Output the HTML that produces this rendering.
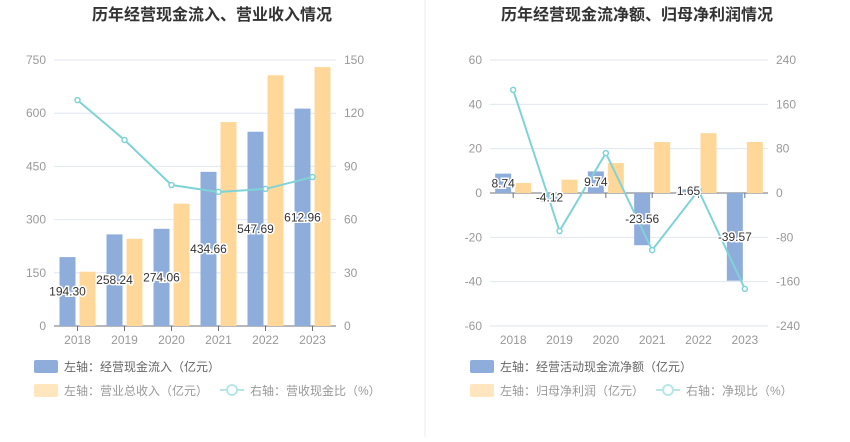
<!DOCTYPE html>
<html><head><meta charset="utf-8"><style>
body{margin:0;background:#fff;font-family:"Liberation Sans","Noto Sans CJK SC",sans-serif;}
svg text{font-family:"Liberation Sans","Noto Sans CJK SC",sans-serif;}
</style></head><body>
<svg id="s" width="850" height="437" xmlns="http://www.w3.org/2000/svg">
<line x1="425" y1="0" x2="425" y2="437" stroke="#eeeeee"/>
<text x="212" y="20" text-anchor="middle" font-size="16" font-weight="bold" fill="#333">历年经营现金流入、营业收入情况</text>
<text x="637" y="20" text-anchor="middle" font-size="16" font-weight="bold" fill="#333">历年经营现金流净额、归母净利润情况</text>
<g id="L"></g><g id="R"></g>
</svg>
<script>
const years=["2018","2019","2020","2021","2022","2023"];
const cashIn=[194.30,258.24,274.06,434.66,547.69,612.96];
const revenue=[153,246,345,575,707,730];
const cashRatio=[127.4,104.9,79.5,75.6,77.3,84];
const leftTicks=[0,150,300,450,600,750];
const leftRTicks=[0,30,60,90,120,150];
const netCash=[8.74,-4.12,9.74,-23.56,1.65,-39.57];
const netProfit=[4.5,6,13.5,23,27,23];
const netRatio=[186,-68.6,72,-103,5,-173];
const rightTicks=[-60,-40,-20,0,20,40,60];
const rightRTicks=[-240,-160,-80,0,80,160,240];
const NS="http://www.w3.org/2000/svg";
function mk(p,t,a){const e=document.createElementNS(NS,t);for(const k in a)e.setAttribute(k,a[k]);p.appendChild(e);return e;}
function chart(g,o){
 const x0=o.x0,x1=o.x1,top=60,bot=326,cw=(x1-x0)/years.length;
 const y=v=>bot-(v-o.min)/(o.max-o.min)*(bot-top);
 const yr=v=>bot-(v-o.rmin)/(o.rmax-o.rmin)*(bot-top);
 o.ticks.forEach((t,i)=>{
  const l=mk(g,'line',{x1:x0,x2:x1,y1:y(t),y2:y(t),stroke:'#e0e6f1'});
  
  const a=mk(g,'text',{x:x0-8,y:y(t)+4,'text-anchor':'end','font-size':12,fill:'#999'});a.textContent=t;
  
  const b=mk(g,'text',{x:x1+8,y:y(t)+4,'font-size':12,fill:'#999'});b.textContent=o.rticks[i];
  
 });
 const ax=mk(g,'line',{x1:x0,x2:x1,y1:y(0),y2:y(0),stroke:'#6e7079'});
 
 years.forEach((yy,i)=>{
  const c=x0+cw*(i+0.5);
  const tk=mk(g,'line',{x1:c,x2:c,y1:y(0),y2:y(0)+5,stroke:'#6e7079'});
  
  const t=mk(g,'text',{x:c,y:bot+18,'text-anchor':'middle','font-size':12,fill:'#999'});t.textContent=yy;
  
  const bw=16;
  const v1=o.a[i],v2=o.b[i];
  const r1=mk(g,'rect',{x:c-bw-2,y:Math.min(y(v1),y(0)),width:bw,height:Math.abs(y(v1)-y(0)),fill:'#8eaddb'});
  
  const r2=mk(g,'rect',{x:c+2,y:Math.min(y(v2),y(0)),width:bw,height:Math.abs(y(v2)-y(0)),fill:'#ffd899'});
  
 });
 let pts=o.c.map((v,i)=>(x0+cw*(i+0.5))+','+yr(v)).join(' ');
 const pl=mk(g,'polyline',{points:pts,fill:'none',stroke:'#7fd3d6','stroke-width':2});
 
 o.c.forEach((v,i)=>{
  const p=mk(g,'circle',{cx:x0+cw*(i+0.5),cy:yr(v),r:2.5,fill:'#fff',stroke:'#7fd3d6','stroke-width':1.5});
  
 });
 o.a.forEach((v,i)=>{
  const c=x0+cw*(i+0.5);
  const ly=o.labelY(v,y);
  const t=mk(g,'text',{x:c-10,y:ly,'text-anchor':'middle','font-size':12,fill:'#333',stroke:'#fff','stroke-width':3,'paint-order':'stroke'});
  t.textContent=v.toFixed(2);
  
 });
 // legend
 const lx=x0-20;
 const e1=mk(g,'rect',{x:lx,y:360,width:24,height:13,rx:2,fill:'#8eaddb'});
 
 const t1=mk(g,'text',{x:lx+30,y:371,'font-size':12,fill:'#666'});t1.textContent=o.l1;
 
 const e2=mk(g,'rect',{x:lx,y:384,width:24,height:13,rx:2,fill:'#ffe6bf'});
 
 const t2=mk(g,'text',{x:lx+30,y:395,'font-size':12,fill:'#999'});t2.textContent=o.l2;
 
 const lx3=lx+o.l3x;
 const e3=mk(g,'line',{x1:lx3,x2:lx3+24,y1:390,y2:390,stroke:'#b8e6e8','stroke-width':2});
 
 const e4=mk(g,'circle',{cx:lx3+12,cy:390,r:5,fill:'#fff',stroke:'#b8e6e8','stroke-width':2});
 
 const t3=mk(g,'text',{x:lx3+30,y:395,'font-size':12,fill:'#999'});t3.textContent=o.l3;
 
}
chart(document.getElementById('L'),{x0:54,x1:336,min:0,max:750,rmin:0,rmax:150,ticks:leftTicks,rticks:leftRTicks,
 a:cashIn,b:revenue,c:cashRatio,labelY:(v,y)=>y(v/2)+4,
 l1:'左轴：经营现金流入（亿元）',l2:'左轴：营业总收入（亿元）',l3:'右轴：营收现金比（%）',l3x:186});
chart(document.getElementById('R'),{x0:490,x1:768,min:-60,max:60,rmin:-240,rmax:240,ticks:rightTicks,rticks:rightRTicks,
 a:netCash,b:netProfit,c:netRatio,labelY:(v,y)=>y(v/2)+4,
 l1:'左轴：经营活动现金流净额（亿元）',l2:'左轴：归母净利润（亿元）',l3:'右轴：净现比（%）',l3x:186});
</script>
</body></html>
